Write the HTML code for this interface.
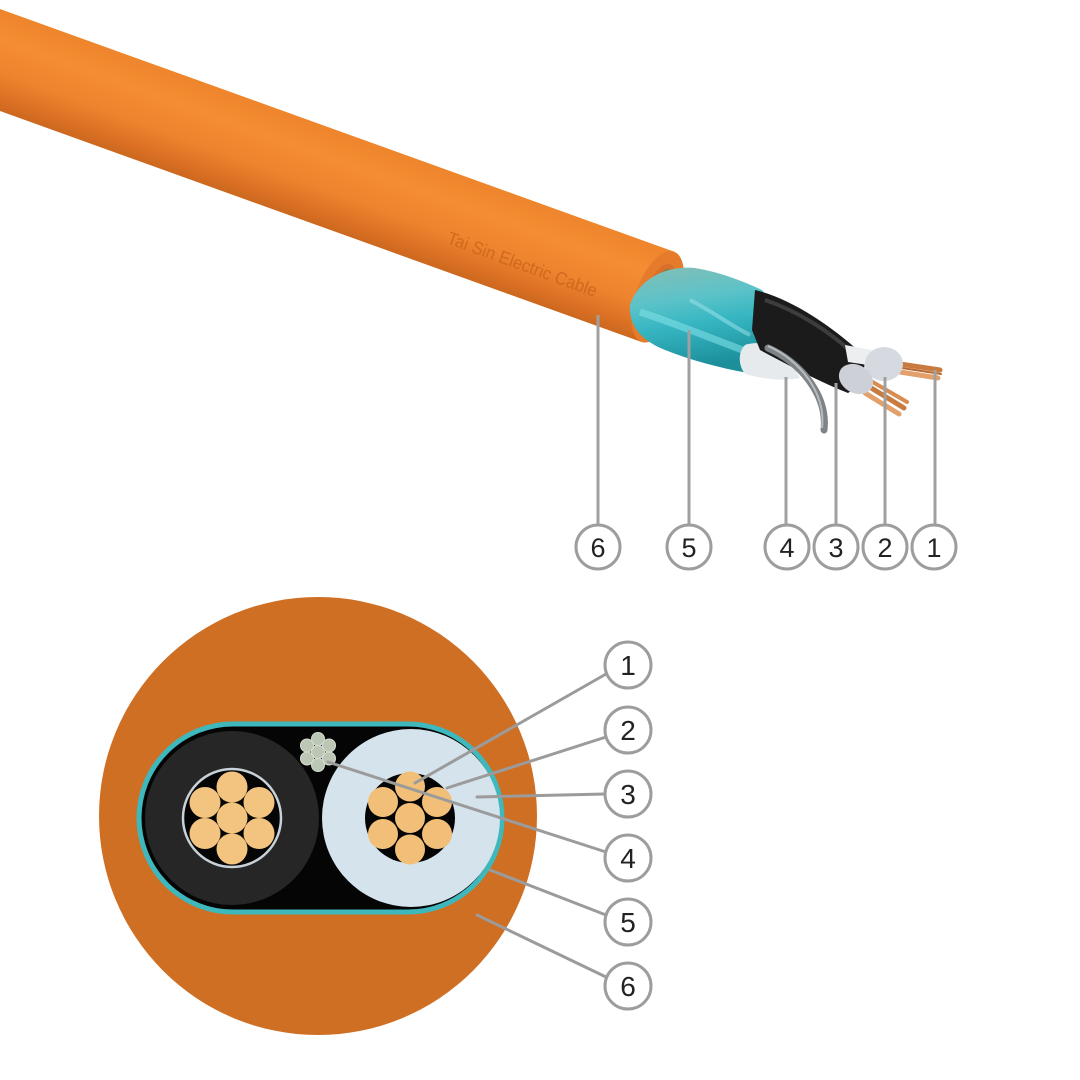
<!DOCTYPE html>
<html><head><meta charset="utf-8"><style>
html,body{margin:0;padding:0;background:#fff;}
svg{display:block;}
text{font-family:"Liberation Sans",sans-serif;}
</style></head><body>
<svg width="1080" height="1080" viewBox="0 0 1080 1080" xmlns="http://www.w3.org/2000/svg">
<defs>
<linearGradient id="cab" x1="0" y1="0" x2="0" y2="1">
<stop offset="0" stop-color="#ee852c"/>
<stop offset="0.3" stop-color="#f48d33"/>
<stop offset="0.62" stop-color="#ee842e"/>
<stop offset="0.86" stop-color="#dc7124"/>
<stop offset="1" stop-color="#cc681f"/>
</linearGradient>
<linearGradient id="teal" x1="0" y1="0" x2="0.2" y2="1">
<stop offset="0" stop-color="#86bdb5"/>
<stop offset="0.35" stop-color="#5cc3c8"/>
<stop offset="0.6" stop-color="#36b6c2"/>
<stop offset="1" stop-color="#1c8f9b"/>
</linearGradient>
</defs>

<!-- top cable body -->
<g transform="translate(0,60) rotate(19.8)">
<rect x="-200" y="-48" width="899" height="96" fill="url(#cab)"/>
<ellipse cx="699" cy="0" rx="22" ry="48" fill="#e67b2b"/>
<ellipse cx="700" cy="2" rx="15" ry="37" fill="#d8702a"/>
<ellipse cx="701" cy="3" rx="12" ry="33" fill="#8c7a3a"/>
</g>
<text transform="translate(446,243) rotate(20)" font-size="18" fill="#c9661d" opacity="0.85" textLength="158" lengthAdjust="spacingAndGlyphs">Tai Sin Electric Cable</text>

<!-- teal screen -->
<path d="M630,305 C638,280 665,265 695,268 C720,272 745,282 762,290 L770,300 L765,350 L748,373 C720,368 690,360 665,350 C645,342 628,328 630,305 Z" fill="url(#teal)"/>
<path d="M640,312 C680,325 715,340 748,352" stroke="#7fe0e6" stroke-width="7" fill="none" opacity="0.6"/>
<path d="M690,300 C710,310 730,325 750,335" stroke="#9fe6ea" stroke-width="4" fill="none" opacity="0.5"/>
<!-- foil -->
<path d="M745,345 C760,340 775,345 790,360 L800,378 C780,382 760,378 745,374 C738,365 738,352 745,345 Z" fill="#e6eaec"/>
<!-- black jacket -->
<path d="M755,290 C790,298 830,325 860,352 C870,362 862,385 848,393 C820,382 790,366 760,350 L752,330 Z" fill="#1b1b1b"/>
<path d="M765,300 C800,312 830,332 855,355" stroke="#3d3d3d" stroke-width="4" fill="none"/>
<!-- drain wire -->
<path d="M768,348 C800,362 828,395 824,430" stroke="#7d8387" stroke-width="7" fill="none" stroke-linecap="round"/>
<path d="M768,346 C800,360 826,393 822,428" stroke="#b7bcbf" stroke-width="2" fill="none"/>
<!-- cores -->
<path d="M845,345 L872,350 L868,365 L848,362 Z" fill="#eceef0"/>
<g stroke-linecap="round">
<line x1="900" y1="364" x2="940" y2="370" stroke="#c97a3e" stroke-width="5"/>
<line x1="900" y1="372" x2="938" y2="378" stroke="#e3a06a" stroke-width="5"/>
<line x1="902" y1="368" x2="941" y2="374" stroke="#b8692f" stroke-width="2"/>
</g>
<ellipse cx="884" cy="364" rx="19" ry="17" fill="#d6d9df"/>
<g stroke-linecap="round">
<line x1="868" y1="386" x2="904" y2="408" stroke="#c97a3e" stroke-width="5"/>
<line x1="865" y1="393" x2="899" y2="414" stroke="#e3a06a" stroke-width="5"/>
<line x1="871" y1="381" x2="907" y2="402" stroke="#d88c50" stroke-width="4"/>
</g>
<ellipse cx="856" cy="379" rx="18" ry="14" transform="rotate(30 856 379)" fill="#cdd1d7"/>

<!-- top leader lines -->
<g stroke="#a0a0a0" stroke-width="3">
<line x1="598" y1="315" x2="598" y2="524"/>
<line x1="689" y1="330" x2="689" y2="524"/>
<line x1="786" y1="377" x2="786" y2="524"/>
<line x1="836" y1="383" x2="836" y2="524"/>
<line x1="885" y1="377" x2="885" y2="524"/>
<line x1="935" y1="370" x2="935" y2="524"/>
</g>
<g fill="#fff" stroke="#9d9d9d" stroke-width="3">
<circle cx="598" cy="547" r="22"/>
<circle cx="689" cy="547" r="22"/>
<circle cx="787" cy="547" r="22"/>
<circle cx="836" cy="547" r="22"/>
<circle cx="885" cy="547" r="22"/>
<circle cx="934" cy="547" r="22"/>
</g>
<g font-size="27" fill="#222" text-anchor="middle">
<text x="598" y="557">6</text>
<text x="689" y="557">5</text>
<text x="787" y="557">4</text>
<text x="836" y="557">3</text>
<text x="885" y="557">2</text>
<text x="934" y="557">1</text>
</g>

<!-- cross section -->
<circle cx="318" cy="816" r="219" fill="#cf6f24"/>
<rect x="139" y="724" width="363" height="188" rx="94" ry="94" fill="#050505" stroke="#3fb8bd" stroke-width="5"/>
<circle cx="232" cy="818" r="87" fill="#262626"/>
<circle cx="411" cy="818" r="89" fill="#d5e3ec"/>
<!-- left copper -->
<circle cx="232" cy="818" r="49" fill="#050505" stroke="#c8d0d8" stroke-width="2.5"/>
<g fill="#f3c47f">
<circle cx="232" cy="818" r="15.5"/>
<circle cx="232" cy="787" r="15.5"/>
<circle cx="259" cy="802.5" r="15.5"/>
<circle cx="259" cy="833.5" r="15.5"/>
<circle cx="232" cy="849" r="15.5"/>
<circle cx="205" cy="833.5" r="15.5"/>
<circle cx="205" cy="802.5" r="15.5"/>
</g>
<!-- right copper -->
<circle cx="410" cy="818" r="45" fill="#050505"/>
<g fill="#f2bf78">
<circle cx="410" cy="818" r="15"/>
<circle cx="410" cy="786.5" r="15"/>
<circle cx="437" cy="802" r="15"/>
<circle cx="437" cy="834" r="15"/>
<circle cx="410" cy="849.5" r="15"/>
<circle cx="383" cy="834" r="15"/>
<circle cx="383" cy="802" r="15"/>
</g>
<!-- drain wire -->
<g fill="#bcc6b4" stroke="#d8ddd2" stroke-width="1">
<circle cx="318" cy="752" r="6.5"/>
<circle cx="318" cy="739" r="6.5"/>
<circle cx="329" cy="745.5" r="6.5"/>
<circle cx="329" cy="758.5" r="6.5"/>
<circle cx="318" cy="765" r="6.5"/>
<circle cx="307" cy="758.5" r="6.5"/>
<circle cx="307" cy="745.5" r="6.5"/>
</g>

<!-- bottom leader lines -->
<g stroke="#9b9b9b" stroke-width="3" stroke-linecap="round">
<line x1="606" y1="674" x2="415" y2="783"/>
<line x1="606" y1="737" x2="447" y2="788"/>
<line x1="605" y1="794" x2="477" y2="797"/>
<line x1="606" y1="852" x2="328" y2="762"/>
<line x1="606" y1="915" x2="490" y2="870"/>
<line x1="606" y1="977" x2="477" y2="915"/>
</g>
<g fill="#fff" stroke="#9d9d9d" stroke-width="3">
<circle cx="628" cy="665" r="23"/>
<circle cx="628" cy="730" r="23"/>
<circle cx="628" cy="794" r="23"/>
<circle cx="628" cy="858" r="23"/>
<circle cx="628" cy="922" r="23"/>
<circle cx="628" cy="986" r="23"/>
</g>
<g font-size="28" fill="#222" text-anchor="middle">
<text x="628" y="675">1</text>
<text x="628" y="740">2</text>
<text x="628" y="804">3</text>
<text x="628" y="868">4</text>
<text x="628" y="932">5</text>
<text x="628" y="996">6</text>
</g>
</svg>
</body></html>
